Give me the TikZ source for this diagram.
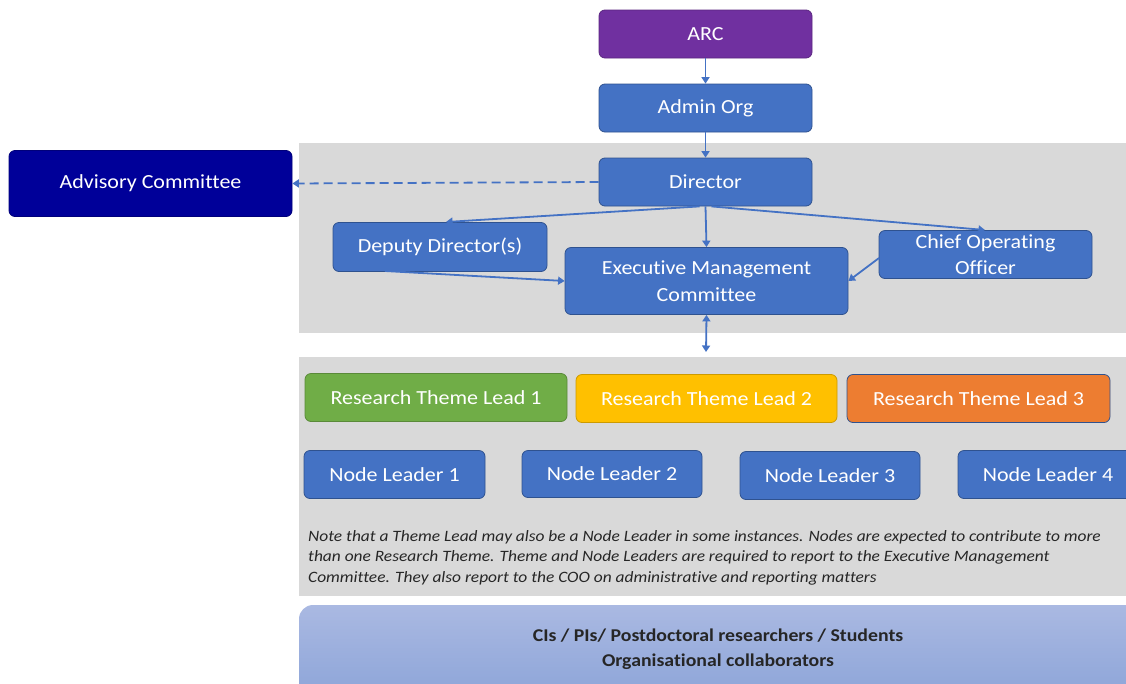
\documentclass[tikz,border=0pt]{standalone}
\usepackage{fontspec}
\setmainfont[Ligatures={NoCommon}, FakeStretch=1.1]{Carlito}
\usetikzlibrary{arrows.meta}
\definecolor{bblue}{HTML}{4472C4}
\definecolor{bborder}{HTML}{2F528F}
\definecolor{purp}{HTML}{7030A0}
\definecolor{navy}{HTML}{000099}
\definecolor{grn}{HTML}{70AD47}
\definecolor{yel}{HTML}{FFC000}
\definecolor{org}{HTML}{ED7D31}
\definecolor{panel}{HTML}{D9D9D9}
\tikzset{
  box/.style={draw=bborder, line width=0.8pt, fill=bblue, rounded corners=6pt, text=white,
    font=\fontsize{20}{27}\selectfont, align=center, inner sep=0pt},
  conn/.style={draw=bblue, line width=1.8pt, -{Triangle[width=8pt,length=6.5pt]}},
}
\begin{document}
\begin{tikzpicture}[x=1pt,y=-1pt]
\useasboundingbox (0,0) rectangle (1126,683);
\clip (0,0) rectangle (1126,683);
% panels
\fill[panel] (299,143) rectangle (1130,333);
\draw[white!85!black, line width=0.6pt] (299,143) -- (1130,143);
\fill[panel] (299,357) rectangle (1130,596);
\shade[top color={rgb,255:red,170;green,185;blue,226}, bottom color={rgb,255:red,140;green,164;blue,216}, rounded corners=14pt]
  (299,700) -- (299,605) -- (1140,605) -- (1140,700) -- cycle;
% nodes
\node[box, fill=purp, draw=purp!80!black, minimum width=213pt, minimum height=48pt] (arc) at (705.5,34) {ARC};
\node[box, minimum width=213pt, minimum height=48pt] (admin) at (705.5,108) {Admin Org};
\node[box, minimum width=213pt, minimum height=48pt] (dir) at (705.5,182) {Director};
\node[box, fill=navy, draw=navy!80!black, minimum width=283pt, minimum height=66pt] (adv) at (150.5,183.5) {Advisory Committee};
\node[box, minimum width=214pt, minimum height=49pt] (dep) at (440,247) {Deputy Director(s)};
\node[box, minimum width=283pt, minimum height=67pt] (emc) at (706.5,281) {Executive Management\\Committee};
\node[box, minimum width=213pt, minimum height=48pt] (coo) at (985.5,254.5) {Chief Operating\\[-1pt]Officer};
\node[box, fill=grn, draw=grn!80!black, minimum width=262pt, minimum height=48pt] (rt1) at (436,397.5) {Research Theme Lead 1};
\node[box, fill=yel, draw=yel!80!black, minimum width=261pt, minimum height=48pt] (rt2) at (706.5,398.5) {Research Theme Lead 2};
\node[box, fill=org, draw=bborder, minimum width=263pt, minimum height=48pt] (rt3) at (978.5,398.5) {Research Theme Lead 3};
\node[box, minimum width=181pt, minimum height=48pt] (nl1) at (394.5,474.5) {Node Leader 1};
\node[box, minimum width=180pt, minimum height=47pt] (nl2) at (612,474) {Node Leader 2};
\node[box, minimum width=180pt, minimum height=48pt] (nl3) at (830,475.5) {Node Leader 3};
\node[box, minimum width=180pt, minimum height=48pt] (nl4) at (1048,474.5) {Node Leader 4};
\node[anchor=north west, align=left, font=\fontsize{15.8}{20.6}\selectfont\itshape, text=black!85, inner sep=0pt] (note) at (308,530)
  {Note that a Theme Lead may also be a Node Leader in some instances. Nodes are expected to contribute to more\\
   than one Research Theme. Theme and Node Leaders are required to report to the Executive Management\\
   Committee. They also report to the COO on administrative and reporting matters};
\node[align=center, font=\fontsize{18}{25}\selectfont\bfseries, text=black!85, inner sep=0pt] (staff) at (718,649)
  {CIs / PIs/ Postdoctoral researchers / Students\\Organisational collaborators};
\coordinate (below) at (706,352);
% connectors
\draw[conn] (arc.south) -- (admin.north);
\draw[conn] (admin.south) -- (dir.north);
\draw[conn, dashed, dash pattern=on 9pt off 5pt] (dir.west) -- (adv.east);
\draw[conn] ([xshift=-6pt]dir.south) -- (446,222);
\draw[conn] (dir.south) -- (emc.north);
\draw[conn] ([xshift=6pt]dir.south) -- (985,230);
\draw[conn] (385,271) -- (emc.west);
\draw[conn] (879,258) -- (emc.east);
\draw[conn, {Triangle[width=8pt,length=6.5pt]}-{Triangle[width=8pt,length=6.5pt]}] (emc.south) -- (below);
\end{tikzpicture}
\end{document}
